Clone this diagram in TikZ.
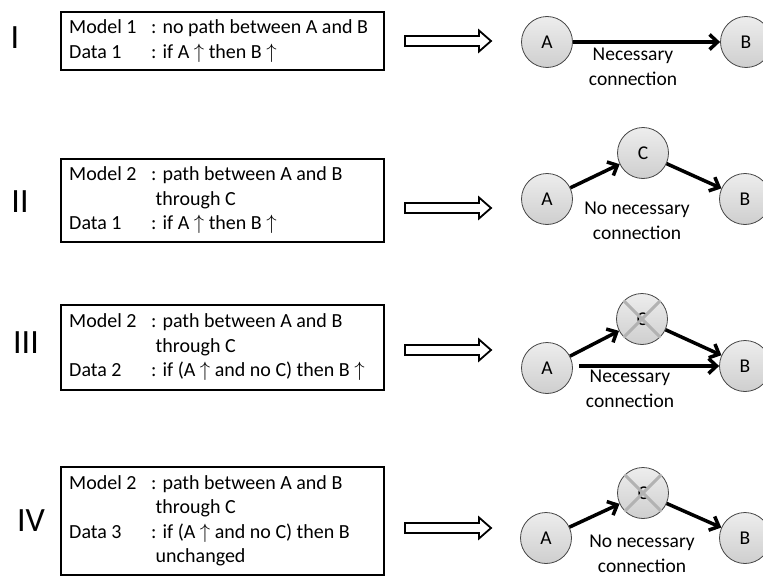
\documentclass[tikz,border=0pt]{standalone}
\usepackage{fontspec}
\setmainfont{Carlito}
\usetikzlibrary{arrows.meta,calc}
\begin{document}
\begin{tikzpicture}[x=1pt,y=-1pt,
  every node/.style={font=\fontsize{19.5}{24.5}\selectfont},
  boxtext/.style={anchor=west, inner sep=0pt, font=\fontsize{20}{24.5}\selectfont},
  numeral/.style={font=\fontsize{34}{34}\selectfont},
  infobox/.style={draw, line width=2pt, minimum width=323pt, inner sep=0pt},
  circ/.style={circle, draw=gray!55!black, line width=0.8pt, minimum size=51pt, inner sep=0pt, top color=gray!14, bottom color=gray!38},
  conn/.style={line width=3.5pt, -{Straight Barb[length=8pt,width=15pt]}},
  crossline/.style={gray!60, line width=3pt},
  lbl/.style={align=center},
  dblarrow/.pic={\draw[line width=1.8pt, fill=white, line join=miter]
     (0,-5) -- (74,-5) -- (74,-10.5) -- (86,0) -- (74,10.5) -- (74,5) -- (0,5) -- cycle;}
]
\useasboundingbox (0,0) rectangle (763,578);

% ---------- Row I ----------
\node[numeral] (n1) at (15,38) {I};
\node[infobox, minimum height=58pt] (box1) at (222.5,41) {};
\node[boxtext] (t1) at ([xshift=9pt]box1.west)
  {\begin{tabular}{@{}p{82pt}@{}l@{}}Model 1 & : no path between A and B\\ Data 1 & : if A $\uparrow$ then B $\uparrow$\end{tabular}};
\pic at (405,41) {dblarrow};
\node[circ] (A1) at (547,42) {A};
\node[circ] (B1) at (746,42) {B};
\draw[conn] (A1) -- (B1);
\node[lbl] (L1) at (633,67) {Necessary\\connection};

% ---------- Row II ----------
\node[numeral] (n2) at (20,202) {II};
\node[infobox, minimum height=83pt] (box2) at (222.5,200.5) {};
\node[boxtext] (t2) at ([xshift=9pt]box2.west)
  {\begin{tabular}{@{}p{82pt}@{}l@{}}Model 2 & : path between A and B\\ & \ through C\\ Data 1 & : if A $\uparrow$ then B $\uparrow$\end{tabular}};
\pic at (405,208) {dblarrow};
\node[circ] (A2) at (547,199) {A};
\node[circ] (C2) at (643,153) {C};
\node[circ] (B2) at (745,199) {B};
\draw[conn] (A2) -- (C2);
\draw[conn] (C2) -- (B2);
\node[lbl] (L2) at (637,221) {No necessary\\connection};

% ---------- Row III ----------
\node[numeral] (n3) at (26,343) {III};
\node[infobox, minimum height=85pt] (box3) at (222.5,347.5) {};
\node[boxtext] (t3) at ([xshift=9pt]box3.west)
  {\begin{tabular}{@{}p{82pt}@{}l@{}}Model 2 & : path between A and B\\ & \ through C\\ Data 2 & : if (A $\uparrow$ and no C) then B $\uparrow$\end{tabular}};
\pic at (405,350) {dblarrow};
\node[circ] (A3) at (547,368) {A};
\node[circ] (C3) at (642,319) {C};
\node[circ] (B3) at (745,366) {B};
\draw[crossline] (C3.135) -- (C3.-45);
\draw[crossline] (C3.45) -- (C3.-135);
\draw[conn] (A3) -- (C3);
\draw[conn] (C3) -- (B3);
\draw[conn, shorten <=6pt] (A3.east |- B3) -- (B3);
\node[lbl] (L3) at (630,389) {Necessary\\connection};

% ---------- Row IV ----------
\node[numeral] (n4) at (31,521) {IV};
\node[infobox, minimum height=108pt] (box4) at (222.5,521) {};
\node[boxtext] (t4) at ([xshift=9pt]box4.west)
  {\begin{tabular}{@{}p{82pt}@{}l@{}}Model 2 & : path between A and B\\ & \ through C\\ Data 3 & : if (A $\uparrow$ and no C) then B\\ & \ unchanged\end{tabular}};
\pic at (405,528) {dblarrow};
\node[circ] (A4) at (546,538) {A};
\node[circ] (C4) at (643,493) {C};
\node[circ] (B4) at (745,538) {B};
\draw[crossline] (C4.135) -- (C4.-45);
\draw[crossline] (C4.45) -- (C4.-135);
\draw[conn] (A4) -- (C4);
\draw[conn] (C4) -- (B4);
\node[lbl] (L4) at (642,554) {No necessary\\connection};
\end{tikzpicture}
\end{document}
